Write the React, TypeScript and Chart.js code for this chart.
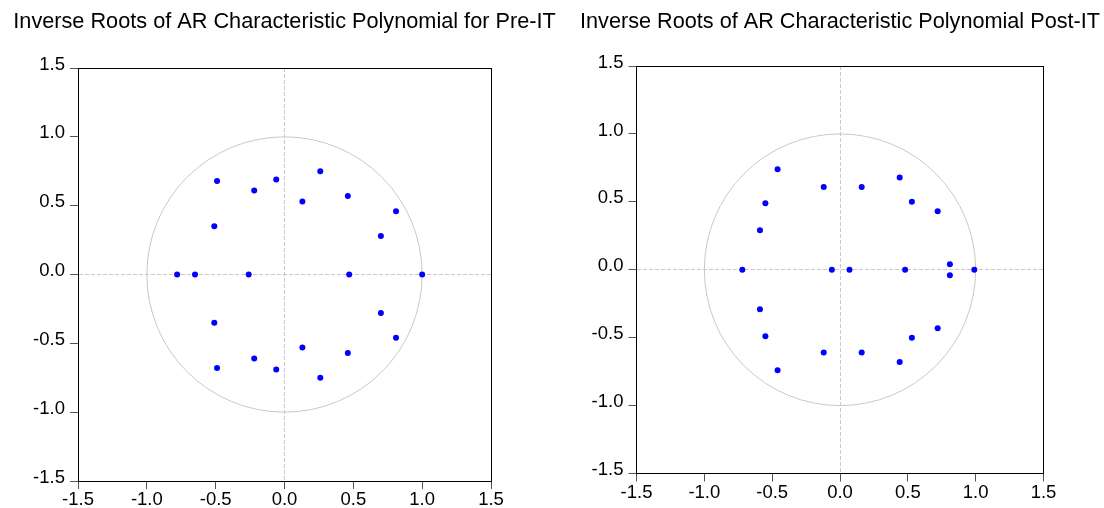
import React, { useEffect, useRef } from "react";
import { Chart, registerables } from "chart.js";

Chart.register(...registerables);

const preTitle = "Inverse Roots of AR Characteristic Polynomial for Pre-IT";
const postTitle = "Inverse Roots of AR Characteristic Polynomial Post-IT";

const axisTicks = [-1.5, -1.0, -0.5, 0.0, 0.5, 1.0, 1.5];

// Pre-IT inverse roots (real, imaginary)
const preX = [-0.49, -0.49, -0.51, -0.51, -0.22, -0.22, -0.06, -0.06, 0.26, 0.26, 0.13, 0.13, 0.46, 0.46, 0.81, 0.81, 0.70, 0.70, -0.78, -0.65, -0.26, 0.47, 1.0];
const preY = [0.68, -0.68, 0.35, -0.35, 0.61, -0.61, 0.69, -0.69, 0.75, -0.75, 0.53, -0.53, 0.57, -0.57, 0.46, -0.46, 0.28, -0.28, 0, 0, 0, 0, 0];

// Post-IT inverse roots (real, imaginary)
const postX = [-0.46, -0.46, -0.55, -0.55, -0.59, -0.59, -0.12, -0.12, 0.16, 0.16, 0.44, 0.44, 0.53, 0.53, 0.72, 0.72, 0.81, 0.81, -0.72, -0.06, 0.07, 0.48, 0.99];
const postY = [0.74, -0.74, 0.49, -0.49, 0.29, -0.29, 0.61, -0.61, 0.61, -0.61, 0.68, -0.68, 0.50, -0.50, 0.43, -0.43, 0.04, -0.04, 0, 0, 0, 0, 0];

const FONT = '"Liberation Sans", Arial, Helvetica, sans-serif';
const H = 508;

const unitCircle = {
  id: "unitCircle",
  beforeDatasetsDraw(chart: any) {
    const { ctx, scales } = chart;
    const x = scales.x;
    const y = scales.y;
    const cx = x.getPixelForValue(0);
    const cy = y.getPixelForValue(0);
    const rx = x.getPixelForValue(1) - cx;
    const ry = cy - y.getPixelForValue(1);
    ctx.save();
    ctx.strokeStyle = "#c8c8c8";
    ctx.lineWidth = 1;
    ctx.beginPath();
    ctx.ellipse(cx, cy, rx, ry, 0, 0, Math.PI * 2);
    ctx.stroke();
    ctx.restore();
  },
};

type PanelProps = {
  title: string;
  xs: number[];
  ys: number[];
  left: number;
  width: number;
  side: number;
  chartTop: number;
  chartBottom: number;
};

function Panel({ title, xs, ys, left, width, side, chartTop, chartBottom }: PanelProps) {
  const ref = useRef<HTMLCanvasElement | null>(null);

  useEffect(() => {
    if (!ref.current) return;
    const tickFont = { family: FONT, size: 18.5, weight: "normal" as const };
    const gridColor = (c: any) =>
      c.tick && c.tick.value === 0 ? "#c8c8c8" : "rgba(0,0,0,0)";
    const titleSize = 21.7;
    const titleLine = titleSize * 1.2;
    const padTop = 9.5;
    const chart = new Chart(ref.current, {
      type: "scatter",
      data: {
        datasets: [
          {
            data: xs.map((v, i) => ({ x: v, y: ys[i] })),
            backgroundColor: "#0000ff",
            borderColor: "#0000ff",
            borderWidth: 0,
            pointRadius: 3,
            pointHoverRadius: 3,
            showLine: false,
          },
        ],
      },
      options: {
        animation: false,
        responsive: false,
        maintainAspectRatio: false,
        events: [],
        layout: { padding: 0 },
        plugins: {
          legend: { display: false },
          tooltip: { enabled: false },
          title: {
            display: true,
            text: title,
            color: "#000",
            font: { family: FONT, size: titleSize, weight: "normal", lineHeight: 1.2 },
            padding: { top: padTop, bottom: chartTop - padTop - titleLine },
          },
        },
        scales: {
          x: {
            type: "linear",
            position: "bottom",
            min: -1.5,
            max: 1.5,
            afterBuildTicks: (s: any) => {
              s.ticks = axisTicks.map((v) => ({ value: v }));
            },
            afterFit: (s: any) => {
              s.height = H - chartBottom;
            },
            ticks: {
              font: tickFont,
              color: "#000",
              padding: 0,
              maxRotation: 0,
              autoSkip: false,
              callback: (v: any) => Number(v).toFixed(1),
            },
            grid: {
              color: gridColor,
              lineWidth: 1,
              drawTicks: true,
              tickLength: 8,
              tickColor: "#555",
              tickWidth: 1,
            },
            border: { display: true, color: "#000", width: 1, dash: [4, 2] },
          },
          y: {
            type: "linear",
            position: "left",
            min: -1.5,
            max: 1.5,
            afterBuildTicks: (s: any) => {
              s.ticks = axisTicks.map((v) => ({ value: v }));
            },
            afterFit: (s: any) => {
              s.width = side;
            },
            ticks: {
              font: tickFont,
              color: "#000",
              padding: 5,
              labelOffset: -3.5,
              autoSkip: false,
              callback: (v: any) => Number(v).toFixed(1),
            },
            grid: {
              color: gridColor,
              lineWidth: 1,
              drawTicks: true,
              tickLength: 8,
              tickColor: "#555",
              tickWidth: 1,
            },
            border: { display: true, color: "#000", width: 1, dash: [4, 2] },
          },
          xt: {
            type: "linear",
            position: "top",
            min: -1.5,
            max: 1.5,
            ticks: { display: false },
            grid: { display: false, drawTicks: false },
            border: { display: true, color: "#000", width: 1 },
            afterFit: (s: any) => {
              s.height = 0;
            },
          },
          yr: {
            type: "linear",
            position: "right",
            min: -1.5,
            max: 1.5,
            ticks: { display: false },
            grid: { display: false, drawTicks: false },
            border: { display: true, color: "#000", width: 1 },
            afterFit: (s: any) => {
              s.width = side;
            },
          },
        },
      } as any,
      plugins: [unitCircle],
    });
    return () => chart.destroy();
  }, [title, xs, ys, side, chartTop, chartBottom]);

  return (
    <canvas
      ref={ref}
      width={width}
      height={H}
      style={{ position: "absolute", left, top: 0, width, height: H, display: "block" }}
    />
  );
}

export default function App() {
  return (
    <div
      style={{
        position: "absolute",
        left: 0,
        top: 0,
        width: 1104,
        height: H,
        background: "#fff",
        overflow: "hidden",
      }}
    >
      <Panel title={preTitle} xs={preX} ys={preY} left={0} width={569} side={78} chartTop={68} chartBottom={481} />
      <Panel title={postTitle} xs={postX} ys={postY} left={580} width={520} side={56.5} chartTop={66} chartBottom={473.5} />
    </div>
  );
}
